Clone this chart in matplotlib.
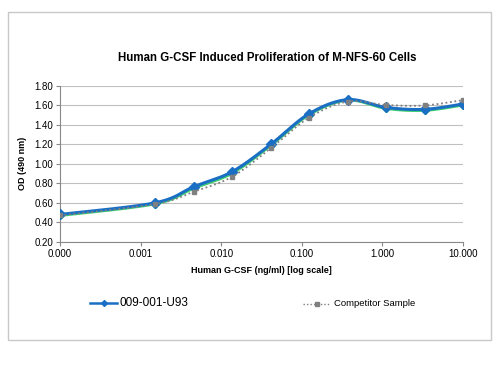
import numpy as np
import matplotlib
matplotlib.use('Agg')
import matplotlib.pyplot as plt
from matplotlib.patches import Rectangle

plt.rcParams['font.family'] = ['Liberation Sans', 'DejaVu Sans']

# concentrations (ng/ml), 3-fold dilutions; the blank is plotted at 0.0001
conc = [0.0001, 0.00152, 0.00457, 0.0137, 0.0412, 0.123, 0.370, 1.11, 3.33, 10.0]
od_u93 = [0.48, 0.60, 0.765, 0.92, 1.20, 1.515, 1.66, 1.58, 1.56, 1.615]
od_green = [0.47, 0.59, 0.75, 0.905, 1.19, 1.505, 1.655, 1.57, 1.55, 1.605]
od_comp = [0.47, 0.587, 0.714, 0.868, 1.16, 1.475, 1.64, 1.605, 1.60, 1.656]

xticks = [0.0001, 0.001, 0.01, 0.1, 1, 10]
xticklabels = ['0.000', '0.001', '0.010', '0.100', '1.000', '10.000']
yticks = [0.2, 0.4, 0.6, 0.8, 1.0, 1.2, 1.4, 1.6, 1.8]


def smooth(x, y, n=20):
    # Catmull-Rom curve through the points (log x), like Excel's smoothed line
    lx = np.log10(x)
    p = np.column_stack([lx, y])
    p = np.vstack([p[0], p, p[-1]])
    out = []
    t = np.linspace(0, 1, n, endpoint=False)[:, None]
    for i in range(1, len(p) - 2):
        p0, p1, p2, p3 = p[i - 1], p[i], p[i + 1], p[i + 2]
        seg = 0.5 * ((2 * p1) + (-p0 + p2) * t
                     + (2 * p0 - 5 * p1 + 4 * p2 - p3) * t ** 2
                     + (-p0 + 3 * p1 - 3 * p2 + p3) * t ** 3)
        out.append(seg)
    out.append(p[-2][None, :])
    out = np.vstack(out)
    return 10 ** out[:, 0], out[:, 1]


fig = plt.figure(figsize=(5, 3.75), dpi=100)
fig.patches.append(Rectangle((8 / 500, 1 - 340 / 375), 483 / 500, 328 / 375,
                             transform=fig.transFigure, fill=False,
                             edgecolor='#c8c8c8', linewidth=1))

ax = fig.add_axes([0.12, 1 - 241.7 / 375, 0.806, (241.7 - 86) / 375])
ax.set_xscale('log')

sx, sy = smooth(conc, od_green)
ax.plot(sx, sy, color='#3fd070', linewidth=2.2, zorder=3)
ax.plot(conc, od_green, linestyle='none', marker='D', markersize=4,
        color='#3fd070', zorder=3)

sx, sy = smooth(conc, od_u93)
ax.plot(sx, sy, color='#1a6fc4', linewidth=2.2, zorder=4)
ax.plot(conc, od_u93, linestyle='none', marker='D', markersize=5,
        color='#1a6fc4', zorder=4)

sx, sy = smooth(conc, od_comp)
ax.plot(sx, sy, color='#808080', linewidth=1.3, linestyle=(0, (1, 1.5)),
        zorder=5)
ax.plot(conc, od_comp, linestyle='none', marker='s', markersize=3,
        color='#808080', zorder=5)

ax.set_xlim(0.0001, 10)
ax.set_ylim(0.2, 1.8)
ax.set_xticks(xticks)
ax.set_xticklabels(xticklabels)
ax.xaxis.set_minor_locator(matplotlib.ticker.NullLocator())
ax.set_yticks(yticks)
ax.set_yticklabels(['%.2f' % v for v in yticks])
ax.tick_params(labelsize=7, length=3, color='#888888', pad=2)
ax.grid(axis='y', color='#c0c0c0', linewidth=0.8)
ax.set_axisbelow(True)
for side in ['top', 'right']:
    ax.spines[side].set_visible(False)
for side in ['left', 'bottom']:
    ax.spines[side].set_color('#888888')
    ax.spines[side].set_linewidth(0.8)

ax.set_xlabel('Human G-CSF (ng/ml) [log scale]', fontsize=6.5,
              fontweight='bold', labelpad=5)
ax.set_ylabel('OD (490 nm)', fontsize=6.5, fontweight='bold', labelpad=5)
fig.text(0.534, 1 - 58 / 375, 'Human G-CSF Induced Proliferation of M-NFS-60 Cells',
         ha='center', va='center', fontsize=8.3, fontweight='bold')

# legend
fig.lines.append(plt.Line2D([90 / 500, 117 / 500], [1 - 303 / 375] * 2,
                            transform=fig.transFigure, color='#1a6fc4',
                            linewidth=1.8))
fig.lines.append(plt.Line2D([103.5 / 500], [1 - 303 / 375],
                            transform=fig.transFigure, color='#1a6fc4',
                            marker='D', markersize=3))
fig.text(119 / 500, 1 - 303 / 375, '009-001-U93', ha='left', va='center',
         fontsize=8.5)
fig.lines.append(plt.Line2D([303 / 500, 330 / 500], [1 - 304 / 375] * 2,
                            transform=fig.transFigure, color='#808080',
                            linewidth=1.0, linestyle=(0, (1, 1.5))))
fig.lines.append(plt.Line2D([316.5 / 500], [1 - 304 / 375],
                            transform=fig.transFigure, color='#808080',
                            marker='s', markersize=2.5))
fig.text(334 / 500, 1 - 304 / 375, 'Competitor Sample', ha='left',
         va='center', fontsize=6.8)

fig.savefig('out.png', dpi=100)
